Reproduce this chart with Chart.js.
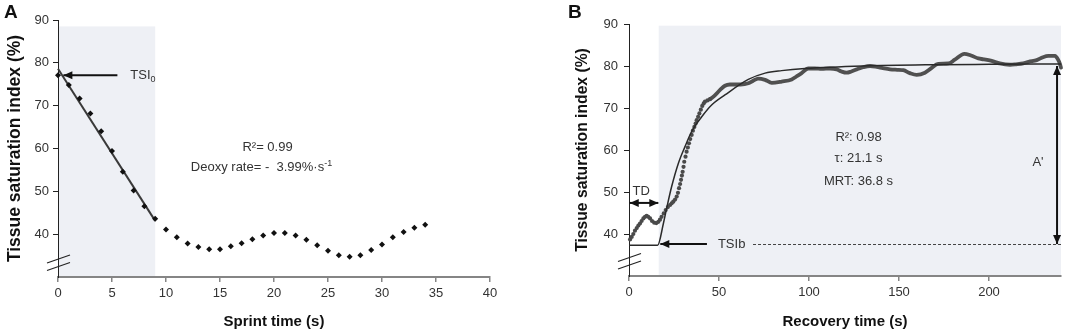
<!DOCTYPE html>
<html>
<head>
<meta charset="utf-8">
<script src="https://cdn.jsdelivr.net/npm/chart.js@4.4.1/dist/chart.umd.min.js"></script>
<style>
  html, body { margin: 0; padding: 0; background: #fff; }
  #wrap { position: relative; width: 1065px; height: 331px; }
  #chartA { position: absolute; left: 0; top: 0; }
  #chartB { position: absolute; left: 540px; top: 0; }
</style>
</head>
<body>
<div id="wrap">
  <canvas id="chartA" width="540" height="331"></canvas>
  <canvas id="chartB" width="525" height="331"></canvas>
</div>
<script>
// ---- Panel A: sprint ----
const sprintTime = [0, 1, 2, 3, 4, 5, 6, 7, 8, 9, 10, 11, 12, 13, 14, 15, 16, 17,
  18, 19, 20, 21, 22, 23, 24, 25, 26, 27, 28, 29, 30, 31, 32, 33, 34];
const sprintTSI = [77.1, 74.8, 71.7, 68.2, 64.0, 59.4, 54.6, 50.2, 46.5, 43.6, 41.1,
  39.3, 37.8, 37.0, 36.5, 36.5, 37.2, 37.9, 38.8, 39.7, 40.3, 40.3, 39.7, 38.7, 37.4,
  36.1, 35.1, 34.7, 35.1, 36.3, 37.6, 39.3, 40.5, 41.5, 42.2];
const deoxyFitTime = [0, 9];
const deoxyFitTSI = [78.6, 43.1];
const sprintXTicks = [0, 5, 10, 15, 20, 25, 30, 35, 40];

// ---- Panel B: recovery ----
const recoveryTime = [0.6, 1.5, 2.4, 3.3, 4.3, 5.2, 6.1, 7.0, 8.0, 8.9, 9.8, 10.7, 11.7,
  12.8, 14.0, 15.2, 16.3, 17.2, 18.1, 19.3, 20.4, 21.6, 22.8, 23.7, 24.6, 25.6, 26.5,
  27.2, 27.8, 28.4, 28.9, 29.4, 29.8, 30.3, 30.7, 31.4, 32.0, 32.7, 33.3, 34.0, 34.8,
  35.5, 36.3, 37.0, 37.6, 38.4, 39.1, 39.9, 40.7, 41.5, 42.2, 43.6, 45.0,
  47.4, 50.6, 53.3, 56, 58.9, 62, 66.3, 69, 71.8, 75.6, 79.3, 84.8, 90.4, 93, 95.9,
  99.6, 103.3, 107, 111.7, 115.4, 118, 120.9, 123.5, 126.5, 130, 133.9, 137.6, 141,
  145, 149, 152.4, 156.1, 159.8, 164.4, 168, 171.8, 177.4, 181, 186.3, 190, 194.1,
  197, 201.5, 206, 211.7, 215, 219, 222, 226.5, 230, 233, 236.7, 238.5, 239.4, 240];
const recoveryTSI = [38.7, 39.3, 40.0, 40.8, 41.4, 42.0, 42.5, 43.1, 43.7, 44.1, 44.3,
  44.1, 43.7, 43.1, 42.7, 42.6, 42.9, 43.4, 44.1, 44.9, 45.7, 46.4, 46.9, 47.3, 47.7,
  48.2, 48.9, 49.8, 50.9, 51.9, 52.9, 53.9, 54.8, 56.0, 57.2, 58.4, 59.6, 60.6, 61.6,
  62.6, 63.6, 64.6, 65.5, 66.3, 67.1, 67.9, 68.7, 69.6, 70.5, 71.1, 71.5, 71.8, 72.1,
  72.9, 74.3, 75.3, 75.6, 75.6, 75.6, 75.9, 76.5, 77.0, 76.7, 76.0, 76.3, 76.8, 77.5,
  78.3, 79.4, 79.4, 79.3, 79.4, 79.2, 78.7, 78.4, 78.7, 79.2, 79.7, 80.0, 79.8, 79.5,
  79.2, 79.1, 79.0, 78.3, 77.9, 78.4, 79.5, 80.5, 80.6, 81.5, 82.9, 82.5, 81.8, 81.6,
  81.2, 80.6, 80.3, 80.4, 80.6, 81.0, 81.4, 82.1, 82.4, 82.4, 81.4, 80.5, 79.6];
const fitTime = [0, 15.9, 19.1, 20.9, 23.7, 27.4, 31.1, 34.8, 40.4, 45.9, 53.3, 66.3,
  75.6, 84.8, 97.8, 130, 170, 200, 240];
const fitTSI = [37.3, 37.3, 42.5, 46.1, 51.3, 56.8, 60.8, 64.4, 67.9, 70.7, 73.1, 76.8,
  78.3, 78.9, 79.4, 80.0, 80.3, 80.4, 80.5];
const recoveryXTicks = [0, 50, 100, 150, 200];
const yTicks = [40, 50, 60, 70, 80, 90];

const toPoints = (xs, ys) => xs.map((x, i) => ({ x: x, y: ys[i] }));
const setTicks = list => scale => { scale.ticks = list.map(v => ({ value: v })); };

const TEXT = '#333';
const SHADE = '#eef0f5';
const FONT = 'Arial, "Liberation Sans", sans-serif';

function arrowHead(ctx, x, y, ang) {
  ctx.save();
  ctx.translate(x, y);
  ctx.rotate(ang);
  ctx.beginPath();
  ctx.moveTo(0, 0);
  ctx.lineTo(-9, -4);
  ctx.lineTo(-9, 4);
  ctx.closePath();
  ctx.fill();
  ctx.restore();
}

function arrow(ctx, x1, y1, x2, y2, both) {
  const ang = Math.atan2(y2 - y1, x2 - x1);
  ctx.beginPath();
  ctx.moveTo(x1, y1);
  ctx.lineTo(x2, y2);
  ctx.stroke();
  arrowHead(ctx, x2, y2, ang);
  if (both) arrowHead(ctx, x1, y1, ang + Math.PI);
}

function axisText(ctx, txt, x, y, align) {
  ctx.textAlign = align || 'center';
  ctx.textBaseline = 'middle';
  ctx.fillText(txt, x, y);
}

// shaded boxes behind everything
const shadePlugin = {
  id: 'shade',
  beforeDraw(chart, args, opts) {
    const { ctx, scales: { x, y } } = chart;
    const x0 = x.getPixelForValue(opts.from);
    const x1 = x.getPixelForValue(opts.to);
    const y0 = y.getPixelForValue(opts.top);
    ctx.save();
    ctx.fillStyle = SHADE;
    ctx.fillRect(x0, y0, x1 - x0, y.bottom - y0 - 1);
    ctx.restore();
  }
};

// arrows, labels, axis break
const decorPlugin = {
  id: 'decor',
  afterDatasetsDraw(chart, args, opts) {
    const { ctx, scales: { x, y } } = chart;
    const px = v => x.getPixelForValue(v);
    const py = v => y.getPixelForValue(v);
    ctx.save();
    ctx.fillStyle = '#111';

    // axis break marks on y axis
    const ax = x.left;
    ctx.lineWidth = 1.2;
    ctx.strokeStyle = '#222';
    [py(opts.breakAt), py(opts.breakAt) + 7.5].forEach(by => {
      ctx.beginPath();
      ctx.moveTo(ax - 11, by + 4);
      ctx.lineTo(ax + 12, by - 4);
      ctx.stroke();
    });
    ctx.strokeStyle = '#111';
    ctx.lineWidth = 2;

    // panel letter
    ctx.font = 'bold 19px ' + FONT;
    ctx.textAlign = 'left';
    ctx.textBaseline = 'alphabetic';
    ctx.fillText(opts.letter, opts.letterX, 18);

    ctx.font = '13px ' + FONT;
    ctx.fillStyle = TEXT;
    opts.draw(ctx, px, py);
    ctx.restore();
  }
};

function baseScales(xTicks, xMax, xTitle, yWidth, yTitleSize, yTitlePad, xHeight, yPad) {
  return {
    x: {
      type: 'linear', min: 0, max: xMax,
      afterBuildTicks: setTicks(xTicks),
      afterFit: s => { s.height = xHeight; },
      border: { color: '#858585', width: 2 },
      grid: { drawOnChartArea: false, tickLength: 5, color: '#858585', lineWidth: 1.5 },
      ticks: { padding: 4, color: TEXT, font: { family: FONT, size: 13 } },
      title: { display: true, text: xTitle, color: '#111',
        font: { family: FONT, size: 15, weight: 'bold', lineHeight: 1.2 }, padding: { top: 0, bottom: 0 } }
    },
    y: {
      type: 'linear', min: 30, max: 90,
      afterBuildTicks: setTicks(yTicks),
      afterFit: s => { s.width = yWidth; },
      border: { color: '#222', width: 1 },
      grid: { drawOnChartArea: false, tickLength: 5, color: '#222' },
      ticks: { padding: yPad, color: TEXT, font: { family: FONT, size: 13 } },
      title: { display: true, text: 'Tissue saturation index (%)', color: '#111',
        font: { family: FONT, size: yTitleSize, weight: 'bold', lineHeight: 1.2 },
        padding: { top: yTitlePad, bottom: 0 } }
    }
  };
}

// ---- Chart A ----
new Chart(document.getElementById('chartA'), {
  type: 'scatter',
  data: {
    datasets: [
      {
        label: 'TSI',
        data: toPoints(sprintTime, sprintTSI),
        pointStyle: 'rectRot',
        pointRadius: 3,
        backgroundColor: '#111',
        borderWidth: 0,
        clip: false
      },
      {
        label: 'Deoxy fit',
        type: 'line',
        data: toPoints(deoxyFitTime, deoxyFitTSI),
        borderColor: '#3a3a3a',
        borderWidth: 2,
        pointRadius: 0,
        clip: false
      }
    ]
  },
  options: {
    responsive: false,
    animation: false,
    layout: { padding: { left: 0, right: 50, top: 20, bottom: 0 } },
    plugins: {
      legend: { display: false },
      tooltip: { enabled: false },
      shade: { from: 0, to: 9, top: 88.5 },
      decor: {
        letter: 'A', letterX: 4, breakAt: 34.2,
        draw(ctx, px, py) {
          ctx.fillStyle = '#111';
          arrow(ctx, px(5.5), py(77.1), px(0.5), py(77.1));
          ctx.fillStyle = TEXT;
          axisText(ctx, 'TSI', px(6.7), py(77.1), 'left');
          const w = ctx.measureText('TSI').width;
          ctx.font = '9px ' + FONT;
          axisText(ctx, '0', px(6.7) + w, py(77.1) + 4, 'left');
          ctx.font = '13px ' + FONT;
          axisText(ctx, 'R\u00b2= 0.99', px(19.4), py(60.2));
          const t = 'Deoxy rate= -  3.99%\u00b7s';
          axisText(ctx, t, px(12.3), py(55.6), 'left');
          const tw = ctx.measureText(t).width;
          ctx.font = '9px ' + FONT;
          axisText(ctx, '-1', px(12.3) + tw, py(55.6) - 4, 'left');
        }
      }
    },
    scales: baseScales(sprintXTicks, 40, 'Sprint time (s)', 58, 17.5, 4.5, 54, 4)
  },
  plugins: [shadePlugin, decorPlugin]
});

// ---- Chart B ----
new Chart(document.getElementById('chartB'), {
  type: 'scatter',
  data: {
    datasets: [
      {
        label: 'Fit',
        type: 'line',
        data: toPoints(fitTime, fitTSI),
        borderColor: '#2a2a2a',
        borderWidth: 1.5,
        pointRadius: 0,
        cubicInterpolationMode: 'monotone',
        clip: false
      },
      {
        label: 'TSI',
        type: 'line',
        data: toPoints(recoveryTime, recoveryTSI),
        showLine: true,
        borderWidth: 3.8,
        borderCapStyle: 'round',
        borderJoinStyle: 'round',
        cubicInterpolationMode: 'monotone',
        segment: {
          borderColor: c => c.p0.parsed.x < 45 ? 'rgba(0,0,0,0)' : '#505050'
        },
        pointRadius: c => (c.raw && c.raw.x < 46 ? 2.1 : 0),
        backgroundColor: '#4a4a4a',
        borderColor: '#505050',
        pointBorderWidth: 0,
        clip: false
      }
    ]
  },
  options: {
    responsive: false,
    animation: false,
    layout: { padding: { left: 0, right: 3, top: 24, bottom: 0 } },
    plugins: {
      legend: { display: false },
      tooltip: { enabled: false },
      shade: { from: 16.5, to: 240, top: 89.6 },
      decor: {
        letter: 'B', letterX: 28, breakAt: 34.4,
        draw(ctx, px, py) {
          ctx.fillStyle = '#111';
          arrow(ctx, px(0.4), py(47.4), px(16.3), py(47.4), true);
          arrow(ctx, px(43.3), py(37.6), px(17.4), py(37.6));
          arrow(ctx, px(237.8), py(80.0), px(237.8), py(37.6), true);
          ctx.save();
          ctx.strokeStyle = '#444';
          ctx.lineWidth = 1;
          ctx.setLineDash([3, 2]);
          ctx.beginPath();
          ctx.moveTo(px(68.9), Math.round(py(37.6)) + 0.5);
          ctx.lineTo(px(240), Math.round(py(37.6)) + 0.5);
          ctx.stroke();
          ctx.restore();
          ctx.fillStyle = TEXT;
          axisText(ctx, 'TD', px(6.8), py(50.2));
          axisText(ctx, 'TSIb', px(49.4), py(37.6), 'left');
          axisText(ctx, "A'", px(227.2), py(57.1));
          axisText(ctx, 'R\u00b2: 0.98', px(127.5), py(63.1));
          axisText(ctx, '\u03c4: 21.1 s', px(127.5), py(57.9));
          axisText(ctx, 'MRT: 36.8 s', px(127.5), py(52.4));
        }
      }
    },
    scales: baseScales(recoveryXTicks, 240, 'Recovery time (s)', 89, 15.7, 33.6, 55, 6)
  },
  plugins: [shadePlugin, decorPlugin]
});
</script>
</body>
</html>
